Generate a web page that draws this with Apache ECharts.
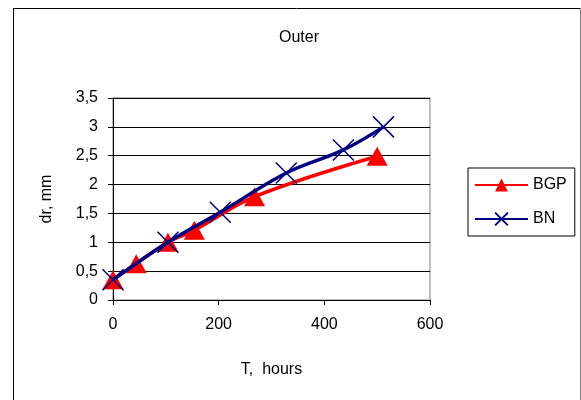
<!DOCTYPE html>
<html>
<head>
<meta charset="utf-8">
<script src="https://cdn.jsdelivr.net/npm/echarts@6/dist/echarts.min.js"></script>
<style>
  html, body { margin: 0; padding: 0; background: #fff; }
  #chart { width: 581px; height: 400px; }
</style>
</head>
<body>
<div id="chart"></div>
<script>
// Wear growth over time for two bearing materials
const bgpHours = [0, 44, 104, 154, 268, 500];
const bgpDr    = [0.35, 0.63, 1.0, 1.21, 1.79, 2.49];
const bnHours  = [0, 104, 203, 328, 436, 512];
const bnDr     = [0.35, 1.0, 1.52, 2.2, 2.6, 3.0];
const seriesNames = ['BGP', 'BN'];

const FONT = 'Liberation Sans, Arial, sans-serif';
const chart = echarts.init(document.getElementById('chart'), null, { renderer: 'canvas' });

const pairs = (xs, ys) => xs.map((x, i) => [x, ys[i]]);

chart.setOption({
  backgroundColor: '#fff',
  animation: false,
  title: {
    text: 'Outer',
    left: 294,
    top: 25,
    textAlign: 'center',
    textStyle: { fontFamily: FONT, fontSize: 16, fontWeight: 'normal', color: '#000' }
  },
  legend: {
    orient: 'vertical',
    left: 468,
    top: 168,
    padding: [9, 8, 9, 6],
    itemWidth: 53,
    itemHeight: 16,
    itemGap: 18,
    itemTextGap: 3,
    borderColor: '#000',
    borderWidth: 1,
    textStyle: { fontFamily: FONT, fontSize: 16, color: '#000' },
    data: seriesNames
  },
  grid: {
    left: 113, top: 98, width: 317, height: 202,
    show: true, borderColor: '#808080', borderWidth: 1
  },
  xAxis: {
    type: 'value',
    min: 0, max: 600, interval: 200,
    name: 'T,  hours',
    nameLocation: 'middle',
    nameGap: 62,
    nameTextStyle: { fontFamily: FONT, fontSize: 16, color: '#000' },
    axisLine: { show: true, onZero: false, lineStyle: { color: '#000', width: 1 } },
    axisTick: { show: true, inside: false, length: 5, lineStyle: { color: '#000' } },
    axisLabel: { fontFamily: FONT, fontSize: 16, color: '#000', margin: 17 },
    splitLine: { show: false }
  },
  yAxis: {
    type: 'value',
    min: 0, max: 3.5, interval: 0.5,
    name: 'dr, mm',
    nameLocation: 'middle',
    nameGap: 58,
    nameTextStyle: { fontFamily: FONT, fontSize: 16, color: '#000' },
    axisLine: { show: true, lineStyle: { color: '#000', width: 1 } },
    axisTick: { show: true, inside: false, length: 5, lineStyle: { color: '#000' } },
    axisLabel: {
      fontFamily: FONT, fontSize: 16, color: '#000', margin: 15,
      formatter: v => String(v).replace('.', ',')
    },
    splitLine: { show: true, lineStyle: { color: '#000', width: 1 } }
  },
  graphic: [
    { type: 'line', shape: { x1: 13.5, y1: 8.5, x2: 13.5, y2: 400 }, style: { stroke: '#000', lineWidth: 1 } },
    { type: 'line', shape: { x1: 13, y1: 8.5, x2: 580, y2: 8.5 }, style: { stroke: '#000', lineWidth: 1 } },
    { type: 'line', shape: { x1: 580.5, y1: 8, x2: 580.5, y2: 400 }, style: { stroke: '#808080', lineWidth: 1 } }
  ],
  series: [
    {
      name: seriesNames[0],
      type: 'line',
      data: pairs(bgpHours, bgpDr),
      smooth: 0.35,
      symbol: 'triangle',
      symbolSize: [21, 19],
      lineStyle: { color: '#ff0000', width: 3.5 },
      itemStyle: { color: '#ff0000' },
      z: 2
    },
    {
      name: seriesNames[1],
      type: 'line',
      data: pairs(bnHours, bnDr),
      smooth: 0.35,
      symbol: 'path://M0,0L20,20M20,0L0,20',
      symbolSize: 21,
      lineStyle: { color: '#000080', width: 3.5 },
      itemStyle: { color: '#000080', borderColor: '#000080', borderWidth: 1.5 },
      z: 3
    }
  ]
});
</script>
</body>
</html>
